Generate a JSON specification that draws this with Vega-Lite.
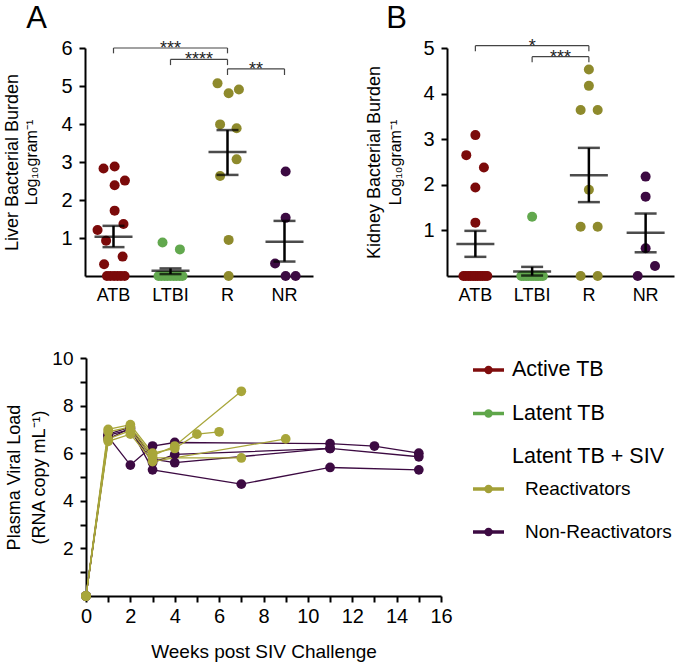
{
  "$schema": "https://vega.github.io/schema/vega-lite/v6.json",
  "width": 677,
  "height": 662,
  "padding": 0,
  "autosize": {"type": "none"},
  "config": {
    "font": "Liberation Sans",
    "view": {"stroke": null},
    "axis": {"grid": false, "domainColor": "#000", "domainWidth": 2, "tickColor": "#000", "tickWidth": 2, "tickSize": 6, "labelColor": "#000", "titleColor": "#000", "titleFontWeight": "normal", "labelFont": "Liberation Sans", "titleFont": "Liberation Sans", "labelFlush": false},
    "text": {"font": "Liberation Sans"}
  },
  "datasets": {
    "liver": [
      {"group": "ATB", "value": 2.83, "jitter": -0.35},
      {"group": "ATB", "value": 2.88, "jitter": 0.04},
      {"group": "ATB", "value": 2.39, "jitter": 0.04},
      {"group": "ATB", "value": 2.51, "jitter": 0.4},
      {"group": "ATB", "value": 1.72, "jitter": 0.04},
      {"group": "ATB", "value": 1.21, "jitter": -0.56},
      {"group": "ATB", "value": 1.37, "jitter": 0.35},
      {"group": "ATB", "value": 0.93, "jitter": -0.26},
      {"group": "ATB", "value": 0.51, "jitter": 0.32},
      {"group": "ATB", "value": 0.31, "jitter": -0.33},
      {"group": "ATB", "value": 0, "jitter": -0.23},
      {"group": "ATB", "value": 0, "jitter": -0.11},
      {"group": "ATB", "value": 0, "jitter": 0.02},
      {"group": "ATB", "value": 0, "jitter": 0.14},
      {"group": "ATB", "value": 0, "jitter": 0.26},
      {"group": "ATB", "value": 0, "jitter": 0.39},
      {"group": "LTBI", "value": 0.88, "jitter": -0.28},
      {"group": "LTBI", "value": 0.7, "jitter": 0.33},
      {"group": "LTBI", "value": 0, "jitter": -0.42},
      {"group": "LTBI", "value": 0, "jitter": -0.32},
      {"group": "LTBI", "value": 0, "jitter": -0.21},
      {"group": "LTBI", "value": 0, "jitter": -0.11},
      {"group": "LTBI", "value": 0, "jitter": 0},
      {"group": "LTBI", "value": 0, "jitter": 0.11},
      {"group": "LTBI", "value": 0, "jitter": 0.21},
      {"group": "LTBI", "value": 0, "jitter": 0.32},
      {"group": "LTBI", "value": 0, "jitter": 0.42},
      {"group": "R", "value": 5.07, "jitter": -0.35},
      {"group": "R", "value": 4.81, "jitter": 0.04},
      {"group": "R", "value": 4.91, "jitter": 0.4},
      {"group": "R", "value": 3.99, "jitter": -0.26},
      {"group": "R", "value": 3.89, "jitter": 0.32},
      {"group": "R", "value": 3.07, "jitter": 0.32},
      {"group": "R", "value": 2.63, "jitter": -0.26},
      {"group": "R", "value": 0.95, "jitter": 0.04},
      {"group": "R", "value": 0, "jitter": 0.04},
      {"group": "NR", "value": 2.75, "jitter": 0.04},
      {"group": "NR", "value": 1.53, "jitter": 0.04},
      {"group": "NR", "value": 0.33, "jitter": -0.33},
      {"group": "NR", "value": 0, "jitter": 0.04},
      {"group": "NR", "value": 0, "jitter": 0.39}
    ],
    "liverSum": [
      {"group": "ATB", "mean": 1.03, "lo": 0.76, "hi": 1.32},
      {"group": "LTBI", "mean": 0.14, "lo": 0.05, "hi": 0.2},
      {"group": "R", "mean": 3.26, "lo": 2.66, "hi": 3.84},
      {"group": "NR", "mean": 0.9, "lo": 0.38, "hi": 1.45}
    ],
    "liverBr": [
      {"left": 1, "right": 3, "mid": 2, "level": 6.0, "drop": 5.86, "label": "***"},
      {"left": 2, "right": 3, "mid": 2.5, "level": 5.7, "drop": 5.55, "label": "****"},
      {"left": 3, "right": 4, "mid": 3.5, "level": 5.45, "drop": 5.29, "label": "**"}
    ],
    "kidney": [
      {"group": "ATB", "value": 3.09, "jitter": 0},
      {"group": "ATB", "value": 2.65, "jitter": -0.32},
      {"group": "ATB", "value": 2.38, "jitter": 0.3},
      {"group": "ATB", "value": 1.94, "jitter": 0},
      {"group": "ATB", "value": 1.17, "jitter": 0},
      {"group": "ATB", "value": 0, "jitter": -0.42},
      {"group": "ATB", "value": 0, "jitter": -0.34},
      {"group": "ATB", "value": 0, "jitter": -0.25},
      {"group": "ATB", "value": 0, "jitter": -0.17},
      {"group": "ATB", "value": 0, "jitter": -0.08},
      {"group": "ATB", "value": 0, "jitter": 0},
      {"group": "ATB", "value": 0, "jitter": 0.08},
      {"group": "ATB", "value": 0, "jitter": 0.17},
      {"group": "ATB", "value": 0, "jitter": 0.25},
      {"group": "ATB", "value": 0, "jitter": 0.34},
      {"group": "ATB", "value": 0, "jitter": 0.42},
      {"group": "LTBI", "value": 1.3, "jitter": 0},
      {"group": "LTBI", "value": 0, "jitter": -0.38},
      {"group": "LTBI", "value": 0, "jitter": -0.3},
      {"group": "LTBI", "value": 0, "jitter": -0.21},
      {"group": "LTBI", "value": 0, "jitter": -0.13},
      {"group": "LTBI", "value": 0, "jitter": -0.04},
      {"group": "LTBI", "value": 0, "jitter": 0.04},
      {"group": "LTBI", "value": 0, "jitter": 0.13},
      {"group": "LTBI", "value": 0, "jitter": 0.21},
      {"group": "LTBI", "value": 0, "jitter": 0.3},
      {"group": "LTBI", "value": 0, "jitter": 0.38},
      {"group": "R", "value": 4.53, "jitter": 0},
      {"group": "R", "value": 4.17, "jitter": 0},
      {"group": "R", "value": 3.64, "jitter": -0.29},
      {"group": "R", "value": 3.64, "jitter": 0.31},
      {"group": "R", "value": 1.89, "jitter": 0},
      {"group": "R", "value": 1.08, "jitter": -0.29},
      {"group": "R", "value": 1.08, "jitter": 0.31},
      {"group": "R", "value": 0, "jitter": -0.29},
      {"group": "R", "value": 0, "jitter": 0.31},
      {"group": "NR", "value": 2.18, "jitter": 0},
      {"group": "NR", "value": 1.74, "jitter": 0},
      {"group": "NR", "value": 0.61, "jitter": 0},
      {"group": "NR", "value": 0.22, "jitter": 0.33},
      {"group": "NR", "value": 0, "jitter": -0.28}
    ],
    "kidneySum": [
      {"group": "ATB", "mean": 0.7, "lo": 0.42, "hi": 0.99},
      {"group": "LTBI", "mean": 0.1, "lo": 0.01, "hi": 0.2},
      {"group": "R", "mean": 2.21, "lo": 1.62, "hi": 2.81},
      {"group": "NR", "mean": 0.95, "lo": 0.52, "hi": 1.37}
    ],
    "kidneyBr": [
      {"left": 1, "right": 3, "mid": 2, "level": 5.05, "drop": 4.93, "label": "*"},
      {"left": 2, "right": 3, "mid": 2.5, "level": 4.81, "drop": 4.69, "label": "***"}
    ],
    "viral": [
      {"animal": "N1", "group": "NR", "week": 0, "vl": 0},
      {"animal": "N1", "group": "NR", "week": 1, "vl": 6.7},
      {"animal": "N1", "group": "NR", "week": 2, "vl": 5.5},
      {"animal": "N1", "group": "NR", "week": 3, "vl": 6.3},
      {"animal": "N1", "group": "NR", "week": 4, "vl": 6.45},
      {"animal": "N1", "group": "NR", "week": 11, "vl": 6.4},
      {"animal": "N1", "group": "NR", "week": 13, "vl": 6.3},
      {"animal": "N1", "group": "NR", "week": 15, "vl": 6.0},
      {"animal": "N2", "group": "NR", "week": 0, "vl": 0},
      {"animal": "N2", "group": "NR", "week": 1, "vl": 6.6},
      {"animal": "N2", "group": "NR", "week": 2, "vl": 7.05},
      {"animal": "N2", "group": "NR", "week": 3, "vl": 5.3},
      {"animal": "N2", "group": "NR", "week": 7, "vl": 4.7},
      {"animal": "N2", "group": "NR", "week": 11, "vl": 5.4},
      {"animal": "N2", "group": "NR", "week": 15, "vl": 5.3},
      {"animal": "N3", "group": "NR", "week": 0, "vl": 0},
      {"animal": "N3", "group": "NR", "week": 1, "vl": 6.75},
      {"animal": "N3", "group": "NR", "week": 2, "vl": 7.0},
      {"animal": "N3", "group": "NR", "week": 3, "vl": 5.6},
      {"animal": "N3", "group": "NR", "week": 4, "vl": 5.95},
      {"animal": "N3", "group": "NR", "week": 11, "vl": 6.2},
      {"animal": "N3", "group": "NR", "week": 15, "vl": 5.85},
      {"animal": "N4", "group": "NR", "week": 0, "vl": 0},
      {"animal": "N4", "group": "NR", "week": 1, "vl": 6.8},
      {"animal": "N4", "group": "NR", "week": 2, "vl": 7.1},
      {"animal": "N4", "group": "NR", "week": 3, "vl": 5.75},
      {"animal": "N4", "group": "NR", "week": 4, "vl": 5.6},
      {"animal": "N4", "group": "NR", "week": 11, "vl": 6.2},
      {"animal": "R1", "group": "R", "week": 0, "vl": 0},
      {"animal": "R1", "group": "R", "week": 1, "vl": 7.0},
      {"animal": "R1", "group": "R", "week": 2, "vl": 7.2},
      {"animal": "R1", "group": "R", "week": 3, "vl": 6.0},
      {"animal": "R1", "group": "R", "week": 4, "vl": 6.2},
      {"animal": "R1", "group": "R", "week": 5, "vl": 6.8},
      {"animal": "R1", "group": "R", "week": 6, "vl": 6.9},
      {"animal": "R2", "group": "R", "week": 0, "vl": 0},
      {"animal": "R2", "group": "R", "week": 1, "vl": 6.9},
      {"animal": "R2", "group": "R", "week": 2, "vl": 7.1},
      {"animal": "R2", "group": "R", "week": 3, "vl": 5.9},
      {"animal": "R2", "group": "R", "week": 4, "vl": 6.3},
      {"animal": "R2", "group": "R", "week": 7, "vl": 8.6},
      {"animal": "R3", "group": "R", "week": 0, "vl": 0},
      {"animal": "R3", "group": "R", "week": 1, "vl": 6.5},
      {"animal": "R3", "group": "R", "week": 2, "vl": 6.8},
      {"animal": "R3", "group": "R", "week": 3, "vl": 5.65},
      {"animal": "R3", "group": "R", "week": 9, "vl": 6.6},
      {"animal": "R4", "group": "R", "week": 0, "vl": 0},
      {"animal": "R4", "group": "R", "week": 1, "vl": 6.6},
      {"animal": "R4", "group": "R", "week": 2, "vl": 6.95},
      {"animal": "R4", "group": "R", "week": 3, "vl": 5.8},
      {"animal": "R4", "group": "R", "week": 7, "vl": 5.8}
    ],
    "legendMain": [
      {"label": "Active TB", "group": "ATB"},
      {"label": "Latent TB", "group": "LTBI"},
      {"label": "Latent TB + SIV", "group": "none"}
    ],
    "legendSub": [
      {"label": "Reactivators", "group": "R"},
      {"label": "Non-Reactivators", "group": "NR"}
    ]
  },
  "layer": [
    {
      "layer": [
        {
          "data": {"name": "liver"},
          "mark": {"type": "point", "filled": true, "size": 100, "opacity": 1},
          "encoding": {
            "x": {"field": "group", "type": "nominal", "title": null,
              "scale": {"type": "band", "domain": ["ATB", "LTBI", "R", "NR"], "range": [85, 313], "paddingInner": 0, "paddingOuter": 0},
              "axis": {"orient": "bottom", "offset": -386, "ticks": false, "tickSize": 0, "labelFontSize": 18, "labelPadding": 10, "labelAngle": 0, "title": null}},
            "xOffset": {"field": "jitter", "type": "quantitative", "scale": {"domain": [-1, 1]}},
            "y": {"field": "value", "type": "quantitative", "title": "Log₁₀gram⁻¹",
              "scale": {"domain": [0, 6], "range": [276, 48], "nice": false, "zero": false},
              "axis": {"orient": "left", "offset": -85, "values": [1, 2, 3, 4, 5, 6], "format": "d", "labelFontSize": 20, "labelPadding": 7, "titleFontSize": 16, "titlePadding": 21}},
            "color": {"field": "group", "type": "nominal", "legend": null,
              "scale": {"domain": ["ATB", "LTBI", "R", "NR"], "range": ["#7b0a0a", "#62a84e", "#8e8a2c", "#3c0a42"]}}
          }
        },
        {
          "data": {"name": "liverSum"},
          "mark": {"type": "tick", "size": 38, "thickness": 2.5, "color": "#000"},
          "encoding": {
            "x": {"field": "group", "type": "nominal", "title": null},
            "y": {"field": "mean", "type": "quantitative", "title": "Log₁₀gram⁻¹"}
          }
        },
        {
          "data": {"name": "liverSum"},
          "mark": {"type": "tick", "size": 22, "thickness": 2.5, "color": "#000"},
          "encoding": {
            "x": {"field": "group", "type": "nominal", "title": null},
            "y": {"field": "hi", "type": "quantitative", "title": "Log₁₀gram⁻¹"}
          }
        },
        {
          "data": {"name": "liverSum"},
          "mark": {"type": "tick", "size": 22, "thickness": 2.5, "color": "#000"},
          "encoding": {
            "x": {"field": "group", "type": "nominal", "title": null},
            "y": {"field": "lo", "type": "quantitative", "title": "Log₁₀gram⁻¹"}
          }
        },
        {
          "data": {"name": "liverSum"},
          "mark": {"type": "rule", "strokeWidth": 2.5, "color": "#000"},
          "encoding": {
            "x": {"field": "group", "type": "nominal", "title": null},
            "y": {"field": "lo", "type": "quantitative", "title": "Log₁₀gram⁻¹"},
            "y2": {"field": "hi"}
          }
        }
      ]
    },
    {
      "data": {"name": "liverBr"},
      "layer": [
        {
          "mark": {"type": "rule", "color": "#444", "strokeWidth": 1.2},
          "encoding": {
            "x": {"field": "left", "type": "quantitative", "title": "A",
              "scale": {"domain": [0.5, 4.5], "range": [85, 313], "nice": false, "zero": false},
              "axis": {"orient": "top", "offset": 0, "labels": false, "ticks": false, "domain": false, "titleX": 36, "titleY": 27, "titleFontSize": 31, "titleAlign": "center", "titleBaseline": "alphabetic", "titleAngle": 0}},
            "x2": {"field": "right"},
            "y": {"field": "level", "type": "quantitative", "title": "Liver Bacterial Burden",
              "scale": {"domain": [0, 6], "range": [276, 48], "nice": false, "zero": false},
              "axis": {"orient": "left", "offset": -85, "labels": false, "ticks": false, "domain": false, "titleFontSize": 18, "titlePadding": 64}}
          }
        },
        {
          "mark": {"type": "rule", "color": "#444", "strokeWidth": 1.2},
          "encoding": {
            "x": {"field": "left", "type": "quantitative", "title": "A"},
            "y": {"field": "level", "type": "quantitative", "title": "Liver Bacterial Burden"},
            "y2": {"field": "drop"}
          }
        },
        {
          "mark": {"type": "rule", "color": "#444", "strokeWidth": 1.2},
          "encoding": {
            "x": {"field": "right", "type": "quantitative", "title": "A"},
            "y": {"field": "level", "type": "quantitative", "title": "Liver Bacterial Burden"},
            "y2": {"field": "drop"}
          }
        },
        {
          "mark": {"type": "text", "fontSize": 18, "dy": 6, "baseline": "alphabetic", "align": "center", "color": "#222"},
          "encoding": {
            "x": {"field": "mid", "type": "quantitative", "title": "A"},
            "y": {"field": "level", "type": "quantitative", "title": "Liver Bacterial Burden"},
            "text": {"field": "label"}
          }
        }
      ]
    },
    {
      "layer": [
        {
          "data": {"name": "kidney"},
          "mark": {"type": "point", "filled": true, "size": 100, "opacity": 1},
          "encoding": {
            "x": {"field": "group", "type": "nominal", "title": null,
              "scale": {"type": "band", "domain": ["ATB", "LTBI", "R", "NR"], "range": [447, 674], "paddingInner": 0, "paddingOuter": 0},
              "axis": {"orient": "bottom", "offset": -386, "ticks": false, "tickSize": 0, "labelFontSize": 18, "labelPadding": 10, "labelAngle": 0, "title": null}},
            "xOffset": {"field": "jitter", "type": "quantitative", "scale": {"domain": [-1, 1]}},
            "y": {"field": "value", "type": "quantitative", "title": "Log₁₀gram⁻¹",
              "scale": {"domain": [0, 5], "range": [276, 48], "nice": false, "zero": false},
              "axis": {"orient": "left", "offset": -447, "values": [1, 2, 3, 4, 5], "format": "d", "labelFontSize": 20, "labelPadding": 7, "titleFontSize": 16, "titlePadding": 19}},
            "color": {"field": "group", "type": "nominal", "legend": null,
              "scale": {"domain": ["ATB", "LTBI", "R", "NR"], "range": ["#7b0a0a", "#62a84e", "#8e8a2c", "#3c0a42"]}}
          }
        },
        {
          "data": {"name": "kidneySum"},
          "mark": {"type": "tick", "size": 38, "thickness": 2.5, "color": "#000"},
          "encoding": {
            "x": {"field": "group", "type": "nominal", "title": null},
            "y": {"field": "mean", "type": "quantitative", "title": "Log₁₀gram⁻¹"}
          }
        },
        {
          "data": {"name": "kidneySum"},
          "mark": {"type": "tick", "size": 22, "thickness": 2.5, "color": "#000"},
          "encoding": {
            "x": {"field": "group", "type": "nominal", "title": null},
            "y": {"field": "hi", "type": "quantitative", "title": "Log₁₀gram⁻¹"}
          }
        },
        {
          "data": {"name": "kidneySum"},
          "mark": {"type": "tick", "size": 22, "thickness": 2.5, "color": "#000"},
          "encoding": {
            "x": {"field": "group", "type": "nominal", "title": null},
            "y": {"field": "lo", "type": "quantitative", "title": "Log₁₀gram⁻¹"}
          }
        },
        {
          "data": {"name": "kidneySum"},
          "mark": {"type": "rule", "strokeWidth": 2.5, "color": "#000"},
          "encoding": {
            "x": {"field": "group", "type": "nominal", "title": null},
            "y": {"field": "lo", "type": "quantitative", "title": "Log₁₀gram⁻¹"},
            "y2": {"field": "hi"}
          }
        }
      ]
    },
    {
      "data": {"name": "kidneyBr"},
      "layer": [
        {
          "mark": {"type": "rule", "color": "#444", "strokeWidth": 1.2},
          "encoding": {
            "x": {"field": "left", "type": "quantitative", "title": "B",
              "scale": {"domain": [0.5, 4.5], "range": [447, 674], "nice": false, "zero": false},
              "axis": {"orient": "top", "offset": 0, "labels": false, "ticks": false, "domain": false, "titleX": 396, "titleY": 27, "titleFontSize": 31, "titleAlign": "center", "titleBaseline": "alphabetic", "titleAngle": 0}},
            "x2": {"field": "right"},
            "y": {"field": "level", "type": "quantitative", "title": "Kidney Bacterial Burden",
              "scale": {"domain": [0, 5], "range": [276, 48], "nice": false, "zero": false},
              "axis": {"orient": "left", "offset": -447, "labels": false, "ticks": false, "domain": false, "titleFontSize": 18, "titlePadding": 64}}
          }
        },
        {
          "mark": {"type": "rule", "color": "#444", "strokeWidth": 1.2},
          "encoding": {
            "x": {"field": "left", "type": "quantitative", "title": "B"},
            "y": {"field": "level", "type": "quantitative", "title": "Kidney Bacterial Burden"},
            "y2": {"field": "drop"}
          }
        },
        {
          "mark": {"type": "rule", "color": "#444", "strokeWidth": 1.2},
          "encoding": {
            "x": {"field": "right", "type": "quantitative", "title": "B"},
            "y": {"field": "level", "type": "quantitative", "title": "Kidney Bacterial Burden"},
            "y2": {"field": "drop"}
          }
        },
        {
          "mark": {"type": "text", "fontSize": 18, "dy": 6, "baseline": "alphabetic", "align": "center", "color": "#222"},
          "encoding": {
            "x": {"field": "mid", "type": "quantitative", "title": "B"},
            "y": {"field": "level", "type": "quantitative", "title": "Kidney Bacterial Burden"},
            "text": {"field": "label"}
          }
        }
      ]
    },
    {
      "data": {"name": "viral"},
      "layer": [
        {
          "mark": {"type": "line", "strokeWidth": 1.3},
          "encoding": {
            "x": {"field": "week", "type": "quantitative", "title": "Weeks post SIV Challenge",
              "scale": {"domain": [0, 16], "range": [86, 441], "nice": false, "zero": false},
              "axis": {"orient": "bottom", "offset": -66, "values": [0, 1, 2, 3, 4, 5, 6, 7, 8, 9, 10, 11, 12, 13, 14, 15, 16], "format": "d", "labelExpr": "datum.value % 2 == 0 ? datum.label : ''", "labelFlush": false, "labelFontSize": 20, "labelPadding": 4, "titleFontSize": 19, "titlePadding": 16}},
            "y": {"field": "vl", "type": "quantitative", "title": ["Plasma Viral Load", "(RNA copy mL⁻¹)"],
              "scale": {"domain": [0, 10], "range": [596, 358], "nice": false, "zero": false},
              "axis": {"orient": "left", "offset": -86, "values": [1, 2, 3, 4, 5, 6, 7, 8, 9, 10], "format": "d", "labelExpr": "datum.value % 2 == 0 ? datum.label : ''", "labelFontSize": 19, "labelPadding": 7, "titleFontSize": 18, "titleLineHeight": 25, "titlePadding": 3}},
            "color": {"field": "group", "type": "nominal", "legend": null,
              "scale": {"domain": ["R", "NR"], "range": ["#a8a63a", "#3c0a42"]}},
            "detail": {"field": "animal", "type": "nominal"}
          }
        },
        {
          "mark": {"type": "point", "filled": true, "size": 95, "opacity": 1},
          "encoding": {
            "x": {"field": "week", "type": "quantitative", "title": "Weeks post SIV Challenge"},
            "y": {"field": "vl", "type": "quantitative", "title": ["Plasma Viral Load", "(RNA copy mL⁻¹)"]},
            "color": {"field": "group", "type": "nominal", "legend": null}
          }
        }
      ]
    },
    {
      "data": {"name": "legendMain"},
      "layer": [
        {
          "transform": [{"filter": "datum.group != 'none'"}],
          "mark": {"type": "rule", "strokeWidth": 3.5},
          "encoding": {
            "x": {"datum": 0, "type": "quantitative", "title": "C",
              "scale": {"domain": [0, 1], "range": [473, 504], "nice": false, "zero": false},
              "axis": {"orient": "top", "offset": 0, "labels": false, "ticks": false, "domain": false, "titleX": 36, "titleY": 349, "titleFontSize": 31, "titleAlign": "center", "titleBaseline": "alphabetic", "titleAngle": 0}},
            "x2": {"datum": 1},
            "y": {"field": "label", "type": "nominal", "axis": null,
              "scale": {"type": "point", "domain": ["Active TB", "Latent TB", "Latent TB + SIV"], "range": [370, 457], "padding": 0}},
            "color": {"field": "group", "type": "nominal", "legend": null,
              "scale": {"domain": ["ATB", "LTBI", "R", "NR", "none"], "range": ["#7f0d0d", "#5fa64a", "#a3a037", "#3c0a42", "#ffffff"]}}
          }
        },
        {
          "transform": [{"filter": "datum.group != 'none'"}],
          "mark": {"type": "point", "filled": true, "size": 70, "opacity": 1},
          "encoding": {
            "x": {"datum": 0.5, "type": "quantitative", "title": "C"},
            "y": {"field": "label", "type": "nominal"},
            "color": {"field": "group", "type": "nominal", "legend": null}
          }
        },
        {
          "mark": {"type": "text", "align": "left", "baseline": "middle", "dx": 8, "fontSize": 21.5, "color": "#000"},
          "encoding": {
            "x": {"datum": 1, "type": "quantitative", "title": "C"},
            "y": {"field": "label", "type": "nominal"},
            "text": {"field": "label"}
          }
        }
      ]
    },
    {
      "data": {"name": "legendSub"},
      "layer": [
        {
          "mark": {"type": "rule", "strokeWidth": 3.5},
          "encoding": {
            "x": {"datum": 0, "type": "quantitative",
              "scale": {"domain": [0, 1], "range": [473, 504], "nice": false, "zero": false},
              "axis": null},
            "x2": {"datum": 1},
            "y": {"field": "label", "type": "nominal", "axis": null,
              "scale": {"type": "point", "domain": ["Reactivators", "Non-Reactivators"], "range": [489, 532], "padding": 0}},
            "color": {"field": "group", "type": "nominal", "legend": null,
              "scale": {"domain": ["R", "NR"], "range": ["#a3a037", "#3c0a42"]}}
          }
        },
        {
          "mark": {"type": "point", "filled": true, "size": 70, "opacity": 1},
          "encoding": {
            "x": {"datum": 0.5, "type": "quantitative"},
            "y": {"field": "label", "type": "nominal"},
            "color": {"field": "group", "type": "nominal", "legend": null}
          }
        },
        {
          "mark": {"type": "text", "align": "left", "baseline": "middle", "dx": 21, "fontSize": 19, "color": "#000"},
          "encoding": {
            "x": {"datum": 1, "type": "quantitative"},
            "y": {"field": "label", "type": "nominal"},
            "text": {"field": "label"}
          }
        }
      ]
    }
  ],
  "resolve": {
    "scale": {"x": "independent", "y": "independent", "xOffset": "independent", "color": "independent"},
    "axis": {"x": "independent", "y": "independent"}
  }
}
